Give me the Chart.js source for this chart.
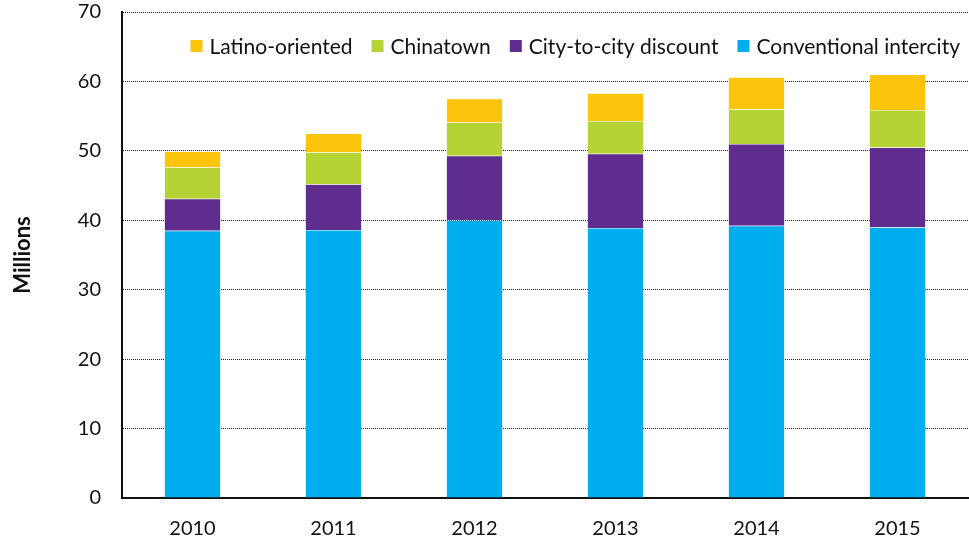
<!DOCTYPE html>
<html>
<head>
<meta charset="utf-8">
<script src="https://cdn.jsdelivr.net/npm/chart.js@4.4.1/dist/chart.umd.min.js"></script>
<style>
html,body{margin:0;padding:0;background:#fff;}
#wrap{width:969px;height:542px;position:relative;}
</style>
</head>
<body>
<div id="wrap"><canvas id="c" width="969" height="542"></canvas></div>
<script>
const years = ['2010','2011','2012','2013','2014','2015'];
const conventional = [38.5, 38.6, 40.0, 38.9, 39.2, 39.0];
const cityToCity = [4.6, 6.6, 9.3, 10.7, 11.8, 11.5];
const chinatown = [4.5, 4.6, 4.8, 4.7, 5.0, 5.4];
const latino = [2.3, 2.7, 3.4, 4.0, 4.6, 5.1];
const seriesNames = ['Conventional intercity', 'City-to-city discount', 'Chinatown', 'Latino-oriented'];
const yTicks = [0, 10, 20, 30, 40, 50, 60, 70];

const colors = ['#00AEEF', '#5E2D8E', '#B5D334', '#FDC40C'];
const seriesData = [conventional, cityToCity, chinatown, latino];

const FONT = 'Lato, "Open Sans", sans-serif';

// Legend drawn inside the plot area, top-right, in reverse dataset order
const insideLegend = {
  id: 'insideLegend',
  afterDraw(chart) {
    const ctx = chart.ctx;
    const area = chart.chartArea;
    const items = chart.data.datasets.map((d) => ({ text: d.label, color: d.backgroundColor })).reverse();
    const box = 12, gapBoxText = 7, gapItems = 19;
    ctx.save();
    ctx.font = '21px ' + FONT;
    ctx.textBaseline = 'middle';
    const widths = items.map(it => ctx.measureText(it.text).width);
    const total = widths.reduce((a, w) => a + box + gapBoxText + w, 0) + gapItems * (items.length - 1);
    let x = area.right - 8 - total;
    const yc = area.top + 34;
    items.forEach((it, i) => {
      ctx.fillStyle = it.color;
      ctx.fillRect(x, yc - box / 2, box, box);
      x += box + gapBoxText;
      ctx.fillStyle = '#111';
      ctx.fillText(it.text, x, yc + 1);
      x += widths[i] + gapItems;
    });
    ctx.restore();
  }
};

new Chart(document.getElementById('c'), {
  type: 'bar',
  data: {
    labels: years,
    datasets: seriesData.map((d, i) => ({
      label: seriesNames[i],
      data: d,
      backgroundColor: colors[i],
      borderColor: 'rgba(255,255,255,0.6)',
      borderWidth: 0.5,
      barPercentage: 0.4,
      categoryPercentage: 1.0
    }))
  },
  options: {
    responsive: false,
    animation: false,
    layout: { padding: { top: 12, right: 1, left: 0, bottom: 0 } },
    plugins: {
      tooltip: { enabled: false },
      legend: { display: false }
    },
    scales: {
      x: {
        stacked: true,
        grid: { display: false, drawTicks: false },
        border: { display: true, color: '#111', width: 2 },
        ticks: { color: '#111', font: { family: FONT, size: 20 }, padding: 19 },
        afterFit: (s) => { s.height = 44; s.paddingLeft = 0; s.paddingRight = 0; }
      },
      y: {
        stacked: true,
        min: 0,
        max: 70,
        afterBuildTicks: (s) => { s.ticks = yTicks.map(v => ({ value: v })); },
        grid: {
          color: (ctx) => ctx.tick && ctx.tick.value === 0 ? 'rgba(0,0,0,0)' : '#222',
          lineWidth: 1,
          drawTicks: false
        },
        border: { display: true, color: '#111', width: 2, dash: [1, 1] },
        ticks: { color: '#111', font: { family: FONT, size: 20 }, padding: 21 },
        title: {
          display: true,
          text: 'Millions',
          color: '#111',
          font: { family: FONT, size: 22, weight: 'bold' },
          padding: { top: 10, bottom: 20 }
        },
        afterFit: (s) => { s.width = 122; s.paddingTop = 0; s.paddingBottom = 0; }
      }
    }
  },
  plugins: [insideLegend]
});
</script>
</body>
</html>
